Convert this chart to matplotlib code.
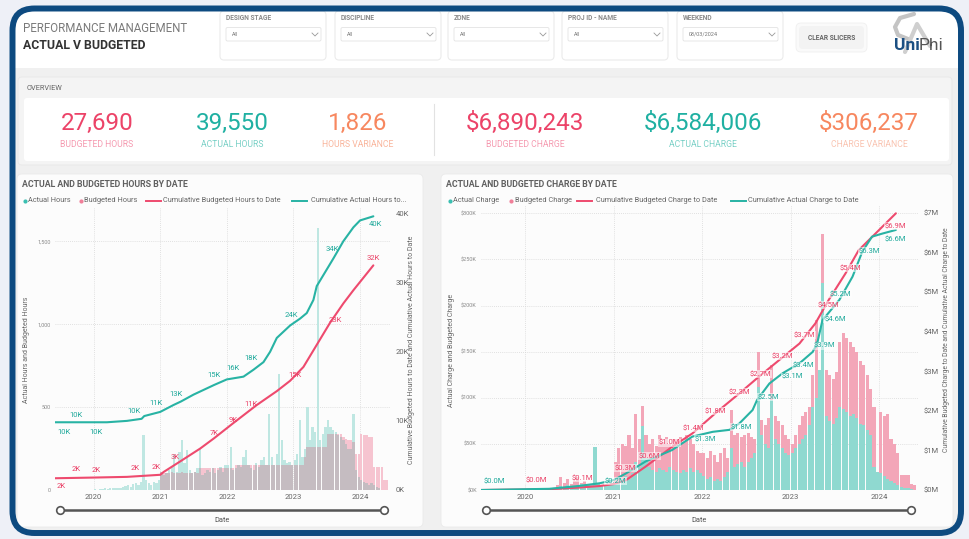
import numpy as np
import matplotlib.pyplot as plt
from matplotlib.patches import FancyBboxPatch, Rectangle

plt.rcParams['font.family'] = ['Roboto', 'DejaVu Sans']

W, H = 970, 539

# ---------------- DATA ----------------
kpi_values = ['27,690', '39,550', '1,826', '$6,890,243', '$6,584,006', '$306,237']
kpi_labels = ['BUDGETED HOURS', 'ACTUAL HOURS', 'HOURS VARIANCE',
              'BUDGETED CHARGE', 'ACTUAL CHARGE', 'CHARGE VARIANCE']
slicer_names = ['DESIGN STAGE', 'DISCIPLINE', 'ZONE', 'PROJ ID - NAME', 'WEEKEND']
slicer_values = ['All', 'All', 'All', 'All', '08/03/2024']
year_ticks = [2020, 2021, 2022, 2023, 2024]

# fortnightly bars starting mid 2019 (13 + 26*4 + 12 values)
BAR_START = 2019.5
BAR_STEP = 1 / 26

hours_actual = [
    0, 0, 0, 0, 0, 0, 0, 0, 0, 0, 0, 0, 0,
    5, 3, 8, 5, 10, 8, 12, 10, 15, 12, 10, 20, 25, 30, 20, 35, 40, 30, 50, 330, 60, 40, 30, 50, 40, 60,
    110, 90, 100, 120, 140, 220, 110, 230, 300, 160, 240, 120, 100, 110, 130, 250, 90, 100, 120, 110, 130, 100, 120, 140, 110, 150,
    150, 260, 120, 130, 150, 140, 200, 240, 150, 130, 120, 160, 140, 180, 200, 150, 460, 200, 150, 220, 700, 300, 180, 160, 170, 150,
    180, 220, 420, 200, 250, 500, 300, 380, 350, 1580, 300, 340, 380, 420, 380, 360, 350, 330, 320, 300, 280, 250, 250, 460, 120, 80,
    60, 50, 40, 30, 40, 30, 20, 10, 0, 0, 0, 0,
]
hours_budget = [
    0, 0, 0, 0, 0, 0, 0, 0, 0, 0, 0, 0, 0,
    0, 0, 0, 0, 0, 0, 0, 0, 0, 0, 0, 0, 0, 0, 0, 0, 0, 0, 0, 0, 0, 0, 0, 0, 0, 0,
    110, 100, 100, 105, 110, 100, 105, 100, 110, 100, 105, 100, 100, 110, 105, 130, 130, 130, 130, 135, 130, 130, 130, 135, 130, 130,
    130, 130, 130, 150, 150, 150, 150, 150, 150, 150, 150, 150, 150, 150, 150, 150, 150, 150, 150, 150, 150, 150, 150, 150, 150, 150,
    150, 150, 150, 150, 200, 260, 260, 260, 260, 260, 260, 260, 260, 340, 340, 340, 340, 340, 340, 320, 310, 300, 300, 290, 220, 220,
    340, 330, 330, 320, 320, 140, 140, 140, 140, 60, 60, 0,
]
charge_budget_k = [
    0, 0, 0, 0, 0, 0, 0, 0, 0, 0, 0, 0, 0,
    0, 0, 0, 0, 0, 0, 0, 0, 2, 5, 14, 8, 12, 6, 10, 14, 8, 10, 5, 6, 8, 5, 4, 5, 5, 6,
    30, 45, 50, 48, 60, 45, 82, 55, 91, 60, 50, 55, 48, 60, 52, 58, 50, 55, 55, 58, 52, 60, 55, 50, 42, 40,
    40, 35, 42, 38, 30, 40, 45, 35, 87, 60, 62, 58, 60, 62, 58, 55, 150, 76, 70, 78, 135, 80, 75, 70, 60, 55,
    50, 60, 70, 80, 85, 90, 125, 184, 130, 278, 130, 125, 120, 128, 160, 170, 165, 160, 155, 150, 140, 135, 125, 110, 90, 20,
    85, 80, 82, 55, 50, 40, 16, 16, 16, 7, 5, 0,
]
charge_actual_k = [
    0, 0, 0, 0, 0, 0, 0, 0, 0, 0, 0, 0, 0,
    0, 0, 0, 0, 0, 0, 0, 0, 2, 3, 4, 3, 5, 3, 4, 5, 6, 4, 5, 3, 47, 6, 5, 6, 5, 8,
    8, 10, 12, 15, 12, 18, 30, 25, 69, 35, 25, 22, 20, 24, 22, 20, 25, 22, 20, 18, 22, 20, 24, 20, 22, 18,
    15, 12, 14, 10, 12, 10, 14, 20, 45, 25, 28, 30, 25, 30, 35, 40, 112, 60, 50, 45, 98, 55, 50, 45, 40, 38,
    40, 45, 50, 55, 60, 70, 90, 100, 130, 224, 80, 75, 72, 78, 90, 88, 85, 80, 82, 78, 72, 70, 65, 60, 25, 20,
    18, 15, 12, 10, 8, 5, 3, 2, 2, 1, 0, 0,
]

# cumulative lines (thousand hours / million $)
cum_hrs_act_x = [2019.42, 2019.8, 2020.2, 2020.5, 2020.72, 2020.76, 2021.0, 2021.2, 2021.31, 2021.5, 2021.81,
                 2022.0, 2022.25, 2022.4, 2022.55, 2022.65, 2022.75, 2022.95, 2023.1, 2023.2, 2023.3, 2023.35,
                 2023.6, 2023.75, 2023.9, 2024.0, 2024.2]
cum_hrs_act = [9.8, 9.8, 9.8, 10.0, 10.3, 10.7, 11.3, 12.3, 12.8, 13.8, 15.2, 16.0, 16.4, 17.4, 18.5, 20.0, 22.0,
               23.8, 24.8, 25.6, 27.5, 29.5, 33.5, 36.0, 38.0, 39.0, 39.6]
cum_hrs_bud_x = [2019.42, 2020.0, 2020.5, 2021.0, 2021.05, 2021.31, 2021.6, 2021.81, 2022.1, 2022.45, 2022.75,
                 2022.95, 2023.15, 2023.35, 2023.55, 2023.75, 2023.9, 2024.05, 2024.2]
cum_hrs_bud = [1.7, 1.8, 1.9, 2.2, 2.6, 4.2, 6.0, 7.5, 9.7, 12.3, 14.3, 15.8, 17.8, 21.0, 24.2, 27.0, 28.9, 30.7, 32.5]

cum_chg_act_x = [2019.5, 2020.27, 2020.6, 2020.84, 2021.0, 2021.14, 2021.36, 2021.66, 2021.89, 2022.12, 2022.31,
                 2022.42, 2022.57, 2022.62, 2022.76, 2022.91, 2023.1, 2023.25, 2023.3, 2023.36, 2023.55, 2023.7,
                 2023.81, 2023.92, 2024.04, 2024.19]
cum_chg_act = [0.0, 0.03, 0.1, 0.17, 0.25, 0.42, 0.72, 1.01, 1.35, 1.47, 1.52, 1.68, 2.02, 2.27, 2.69, 2.95, 3.2,
               3.49, 3.7, 4.29, 4.8, 5.39, 6.02, 6.4, 6.48, 6.57]
cum_chg_bud_x = [2019.5, 2020.27, 2020.6, 2020.84, 2021.0, 2021.14, 2021.36, 2021.66, 2021.89, 2022.15, 2022.42,
                 2022.64, 2022.87, 2023.1, 2023.28, 2023.43, 2023.62, 2023.77, 2023.96, 2024.19]
cum_chg_bud = [0.0, 0.02, 0.06, 0.1, 0.15, 0.25, 0.59, 1.09, 1.43, 1.94, 2.44, 2.86, 3.28, 3.7, 4.21, 4.8, 5.47,
               6.06, 6.48, 6.99]

# data labels on the cumulative lines
hrs_act_lbl_x = [2019.56, 2019.74, 2020.04, 2020.61, 2020.94, 2021.23, 2021.81, 2022.10, 2022.37, 2023.02, 2023.63, 2024.20]
hrs_act_lbl = ['10K', '10K', '10K', '10K', '11K', '13K', '15K', '16K', '18K', '24K', '34K', '40K']
hrs_bud_lbl_x = [2019.52, 2019.74, 2020.04, 2020.62, 2020.94, 2021.22, 2021.81, 2022.10, 2022.37, 2023.02, 2023.63, 2024.20]
hrs_bud_lbl = ['2K', '2K', '2K', '2K', '2K', '3K', '7K', '9K', '11K', '15K', '23K', '32K']
chg_act_lbl_x = [2019.65, 2021.02, 2022.04, 2022.44, 2022.72, 2023.02, 2023.15, 2023.3, 2023.4, 2023.6, 2023.89, 2024.18]
chg_act_lbl = ['$0.0M', '$0.2M', '$1.3M', '$1.8M', '$2.5M', '$3.1M', '$3.4M', '$3.9M', '$4.6M', '$5.2M', '$6.3M', '$6.6M']
chg_bud_lbl_x = [2020.12, 2020.64, 2021.13, 2021.4, 2021.65, 2021.9, 2022.15, 2022.42, 2022.66, 2022.91, 2023.16,
                 2023.43, 2023.68, 2024.19]
chg_bud_lbl = ['$0.0M', '$0.1M', '$0.3M', '$0.6M', '$1.0M', '$1.4M', '$1.8M', '$2.3M', '$2.7M', '$3.2M', '$3.7M',
               '$4.5M', '$5.4M', '$6.9M']

# label offsets in pixels (style)
hrs_act_off = [(0, -10), (0, 7), (0, -10), (0, 9), (0, 10), (0, 10), (0, 10), (0, 10), (0, 13), (-3, 7), (-3, 6), (2, -8)]
hrs_bud_off = [(0, -8), (0, 9), (0, 8), (0, 8), (0, 8), (0, 8), (0, 5), (0, 3), (0, 5), (0, 1), (0, -5), (0, 7)]
chg_act_off = [(0, 9), (0, -2), (0, -6), (0, -5), (3, -9), (0, -9), (0, -6), (7, -2), (9, -3), (-3, -2), (0, -10), (0, -9)]
chg_bud_off = [(0, 9), (0, 9), (0, 12), (0, 8), (-2, 5), (0, 5), (0, 2), (0, 1), (0, 1), (0, 1), (0, 2), (0, -5),
               (0, -4), (0, -13)]

# ---------------- STYLE ----------------
RED = '#ec4368'
TEAL = '#1fb0a2'
ORANGE = '#f7875f'
LINE_RED = '#ee4a6e'
LINE_TEAL = '#28b3a4'

fig = plt.figure(figsize=(W / 100, H / 100), dpi=100, facecolor='#eef0f7')
bg = fig.add_axes([0, 0, 1, 1])
bg.set_xlim(0, W)
bg.set_ylim(H, 0)
bg.axis('off')


def rbox(x0, y0, x1, y1, r=4, fc='white', ec='none', lw=0.8, z=1):
    p = FancyBboxPatch((x0, y0), x1 - x0, y1 - y0, boxstyle=f'round,pad=0,rounding_size={r}',
                       fc=fc, ec=ec, lw=lw, zorder=z)
    bg.add_patch(p)
    return p


# page frame
inner = rbox(12.5, 8.5, 961, 533, 22, '#f0f0f0')
hdr = Rectangle((8, 4), 958, 64, fc='white', ec='none', zorder=1.5)
bg.add_patch(hdr)
hdr.set_clip_path(inner)
rbox(12.5, 8.5, 961, 533, 22, 'none', '#0d4a80', 4.3, z=60)

# header
bg.text(23, 28, 'PERFORMANCE MANAGEMENT', fontsize=8.3, color='#7a7a7a', va='center', zorder=5)
bg.text(23, 45.5, 'ACTUAL V BUDGETED', fontsize=8.8, color='#333333', fontweight='bold', va='center', zorder=5)

slicer_x0 = [220, 335, 448, 562, 677]
for x0, name, val in zip(slicer_x0, slicer_names, slicer_values):
    rbox(x0, 11, x0 + 106, 60, 4, 'white', '#ebebeb', 0.8, z=3)
    bg.text(x0 + 6, 18.5, name, fontsize=4.8, color='#8a8a8a', fontweight='bold', va='center', zorder=5)
    rbox(x0 + 6, 27.5, x0 + 101, 41, 1.5, 'white', '#e3e3e3', 0.6, z=4)
    bg.text(x0 + 12, 34.5, val, fontsize=4, color='#777777', va='center', zorder=5)
    bg.plot([x0 + 92, x0 + 95, x0 + 98], [33, 36, 33], color='#9a9a9a', lw=0.6, zorder=5)

rbox(796, 23, 867, 52, 5, '#fafafa', '#f0f0f0', 0.6, z=3)
rbox(799, 26, 864, 49, 4, '#f3f3f3', 'none', z=4)
bg.text(831.5, 37.8, 'CLEAR SLICERS', fontsize=4.8, color='#666666', fontweight='bold', ha='center', va='center', zorder=5)

# logo
bg.plot([914, 900, 895, 898, 908], [14, 18, 27, 35, 39], color='#c4c4c4', lw=3, solid_capstyle='round', zorder=4)
bg.plot([905, 917, 930], [52, 24, 46], color='#cfcfcf', lw=3, solid_capstyle='round', zorder=4)
bg.text(894, 45.5, 'Uni', fontsize=12.5, color='#1b4f82', fontweight='bold', va='center', zorder=5)
bg.text(918.5, 45.5, 'Phi', fontsize=12.5, color='#555555', va='center', zorder=5)

# overview cards
rbox(18, 77, 952, 165, 4, '#f4f4f4', '#e8e8e8', 0.6, z=2)
bg.text(27, 89, 'OVERVIEW', fontsize=5.3, color='#666666', va='center', zorder=5)
rbox(24, 98, 949, 161, 3, 'white', 'none', z=3)
bg.plot([434, 434], [104, 155], color='#e2e2e2', lw=0.8, zorder=4)
kpi_cx = [97, 232, 358, 525, 703, 869]
kpi_colors = [RED, TEAL, ORANGE, RED, TEAL, ORANGE]
kpi_lcolors = ['#f59ab0', '#79d0c6', '#f9b49b', '#f59ab0', '#79d0c6', '#f9c3b0']
for cx, v, lab, c, lc in zip(kpi_cx, kpi_values, kpi_labels, kpi_colors, kpi_lcolors):
    bg.text(cx, 123, v, fontsize=17.5, color=c, ha='center', va='center', zorder=5)
    bg.text(cx, 144.5, lab, fontsize=6.2, color=lc, ha='center', va='center', zorder=5)

# chart panels
rbox(17, 174, 423, 527, 5, '#fcfcfc', '#ebebeb', 0.6, z=2)
rbox(441, 174, 953, 527, 5, '#fcfcfc', '#ebebeb', 0.6, z=2)
bg.text(22.5, 184.5, 'ACTUAL AND BUDGETED HOURS BY DATE', fontsize=6.3, color='#606060', fontweight='bold', va='center', zorder=5)
bg.text(446.5, 184.5, 'ACTUAL AND BUDGETED CHARGE BY DATE', fontsize=6.3, color='#606060', fontweight='bold', va='center', zorder=5)


def legend(items, y=200.5):
    for kind, x0, color, text, tx in items:
        if kind == 'dot':
            bg.scatter([x0], [y], s=9, color=color, zorder=5, lw=0)
        else:
            bg.plot([x0, x0 + 15], [y, y], color=color, lw=1.4, zorder=5)
        bg.text(tx, y, text, fontsize=5.3, color='#666666', va='center', zorder=5)


legend([('dot', 25, '#3bbfb1', 'Actual Hours', 28),
        ('dot', 81, '#f07f99', 'Budgeted Hours', 84),
        ('line', 146.5, LINE_RED, 'Cumulative Budgeted Hours to Date', 163.5),
        ('line', 292, LINE_TEAL, 'Cumulative Actual Hours to...', 311)])
legend([('dot', 450, '#3bbfb1', 'Actual Charge', 453.5),
        ('dot', 511.5, '#f07f99', 'Budgeted Charge', 515),
        ('line', 577, LINE_RED, 'Cumulative Budgeted Charge to Date', 596),
        ('line', 731, LINE_TEAL, 'Cumulative Actual Charge to Date', 748.5)])

# axis titles and sliders
bg.text(27, 350, 'Actual Hours and Budgeted Hours', fontsize=5, color='#666666', rotation=90, ha='center', va='center', zorder=5)
bg.text(411.5, 350, 'Cumulative Budgeted Hours to Date and Cumulative Actual Hours to Date', fontsize=5, color='#666666',
        rotation=90, ha='center', va='center', zorder=5)
bg.text(451.5, 350, 'Actual Charge and Budgeted Charge', fontsize=5, color='#666666', rotation=90, ha='center', va='center', zorder=5)
bg.text(946.5, 340, 'Cumulative Budgeted Charge to Date and Cumulative Actual Charge to Date', fontsize=4.9, color='#666666',
        rotation=90, ha='center', va='center', zorder=5)
for xa, xb, xm in [(60, 384, 222), (486.5, 911.5, 699)]:
    bg.plot([xa, xb], [509.5, 509.5], color='#555555', lw=1.8, zorder=5)
    bg.scatter([xa, xb], [509.5, 509.5], s=30, facecolor='white', edgecolor='#555555', lw=1.2, zorder=6)
    bg.text(xm, 521, 'Date', fontsize=5.3, color='#555555', ha='center', va='center', zorder=5)


def style_axes(ax, ax2):
    ax.set_facecolor('none')
    for a in (ax, ax2):
        for s in a.spines.values():
            s.set_visible(False)
        a.tick_params(length=0)
    ax.set_xticks(year_ticks)
    ax.set_xticklabels([str(y) for y in year_ticks])
    ax.tick_params(axis='x', labelsize=5.5, labelcolor='#666666', pad=3)
    ax.tick_params(axis='y', labelsize=4, labelcolor='#8a8a8a', pad=3)
    ax2.tick_params(axis='y', labelsize=5.5, labelcolor='#666666', pad=4)
    ax.grid(True, color='#d8d8d8', lw=0.6, ls=(0, (1, 1.5)))
    ax.set_axisbelow(True)


def line_labels(ax, lx, ly, xs, texts, offs, color, box):
    ys = np.interp(xs, lx, ly)
    for x, y, t, (dx, dy) in zip(xs, ys, texts, offs):
        kw = dict(boxstyle='square,pad=0.1', fc='white', ec='none', alpha=0.55) if box else None
        ax.annotate(t, (x, y), xytext=(dx, dy), textcoords='offset pixels', ha='center', va='center',
                    fontsize=5.5, color=color, bbox=kw, zorder=8)


# ---------------- HOURS CHART ----------------
axL = fig.add_axes([55 / W, 1 - 490 / H, 335 / W, 282 / H])
axL2 = axL.twinx()
xb = BAR_START + np.arange(len(hours_actual)) * BAR_STEP + BAR_STEP / 2
ha = np.array(hours_actual)
hb = np.array(hours_budget)
axL.bar(xb, ha, width=BAR_STEP * 0.9, color='#bfe7e2', lw=0)
axL.bar(xb, hb, width=BAR_STEP * 0.9, color='#f6c4d0', lw=0)
axL.bar(xb, np.minimum(ha, hb), width=BAR_STEP * 0.9, color='#c5bcc1', lw=0)
axL.set_xlim(2019.42, 2024.45)
axL.set_ylim(0, 1700)
axL.set_yticks([0, 500, 1000, 1500])
axL.set_yticklabels(['0', '500', '1,000', '1,500'])
axL2.plot(cum_hrs_bud_x, cum_hrs_bud, color=LINE_RED, lw=1.5, solid_capstyle='round')
axL2.plot(cum_hrs_act_x, cum_hrs_act, color=LINE_TEAL, lw=1.5, solid_capstyle='round')
axL2.set_ylim(0, 40.8)
axL2.set_yticks([0, 10, 20, 30, 40])
axL2.set_yticklabels(['0K', '10K', '20K', '30K', '40K'])
style_axes(axL, axL2)
axL.grid(False, axis='y')
for yv in [500, 1000, 1500]:
    axL.axhline(yv, color='#d8d8d8', lw=0.6, ls=(0, (1, 1.5)), zorder=0)
line_labels(axL2, cum_hrs_act_x, cum_hrs_act, hrs_act_lbl_x, hrs_act_lbl, hrs_act_off, '#1fa99b', False)
line_labels(axL2, cum_hrs_bud_x, cum_hrs_bud, hrs_bud_lbl_x, hrs_bud_lbl, hrs_bud_off, '#ea4167', False)

# ---------------- CHARGE CHART ----------------
axR = fig.add_axes([481 / W, 1 - 490 / H, 437 / W, 285 / H])
axR2 = axR.twinx()
xc = BAR_START + np.arange(len(charge_actual_k)) * BAR_STEP + BAR_STEP / 2
axR.bar(xc, charge_budget_k, width=BAR_STEP * 0.9, color='#f3a6b8', lw=0)
axR.bar(xc, charge_actual_k, width=BAR_STEP * 0.9, color='#8fd9d0', lw=0)
axR.set_xlim(2019.5, 2024.44)
axR.set_ylim(0, 309)
axR.set_yticks([0, 50, 100, 150, 200, 250, 300])
axR.set_yticklabels(['$0K', '$50K', '$100K', '$150K', '$200K', '$250K', '$300K'])
axR2.plot(cum_chg_bud_x, cum_chg_bud, color=LINE_RED, lw=1.5, solid_capstyle='round')
axR2.plot(cum_chg_act_x, cum_chg_act, color=LINE_TEAL, lw=1.5, solid_capstyle='round')
axR2.set_ylim(0, 7.2)
axR2.set_yticks(range(8))
axR2.set_yticklabels([f'${i}M' for i in range(8)])
style_axes(axR, axR2)
axR2.tick_params(axis='y', pad=4)
line_labels(axR2, cum_chg_act_x, cum_chg_act, chg_act_lbl_x, chg_act_lbl, chg_act_off, '#1fa99b', True)
line_labels(axR2, cum_chg_bud_x, cum_chg_bud, chg_bud_lbl_x, chg_bud_lbl, chg_bud_off, '#ea4167', True)

fig.savefig('out.png', dpi=100, facecolor=fig.get_facecolor())
